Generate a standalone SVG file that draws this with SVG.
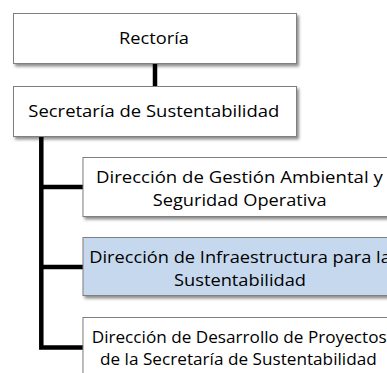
<svg xmlns="http://www.w3.org/2000/svg" width="387" height="373" viewBox="0 0 387 373">
<defs>
<filter id="sh" x="-10%" y="-10%" width="130%" height="140%">
<feDropShadow dx="2" dy="2.5" stdDeviation="1.5" flood-color="#000" flood-opacity="0.45"/>
</filter>
<style>
.box{fill:#fff;stroke:#7f7f7f;stroke-width:1;filter:url(#sh)}
.blue{fill:#c6d8ee}
.t{font-family:"Open Sans","Liberation Sans",sans-serif;font-size:16.8px;fill:#000}
.s{font-size:15.7px}
.ln{fill:none;stroke:#000;stroke-width:4.5;stroke-linejoin:miter}
</style>
</defs>
<rect width="387" height="373" fill="#fff"/>
<g id="connectors">
<path class="ln" d="M155 63 V86.5"/>
<path class="ln" d="M41.3 136.5 V347.5 H83"/>
<path class="ln" d="M41.3 187 H83"/>
<path class="ln" d="M41.3 267 H83"/>
</g>
<g id="rectoria">
<rect class="box" x="13.5" y="13.5" width="283" height="50"/>
<text class="t" x="119" y="44" textLength="70" lengthAdjust="spacingAndGlyphs">Rectoría</text>
</g>
<g id="secretaria">
<rect class="box" x="13.5" y="86.5" width="283" height="50"/>
<text class="t" x="28.3" y="117" textLength="251" lengthAdjust="spacingAndGlyphs">Secretaría de Sustentabilidad</text>
</g>
<g id="gestion">
<rect class="box" x="83" y="157.5" width="314" height="59"/>
<text class="t" x="96" y="182.5" textLength="286.7" lengthAdjust="spacingAndGlyphs">Dirección de Gestión Ambiental y</text>
<text class="t" x="152.7" y="205.5" textLength="174" lengthAdjust="spacingAndGlyphs">Seguridad Operativa</text>
</g>
<g id="infraestructura">
<rect class="box blue" x="83" y="237.5" width="314" height="58"/>
<text class="t" x="89.3" y="262.5" textLength="301.5" lengthAdjust="spacingAndGlyphs">Dirección de Infraestructura para la</text>
<text class="t" x="174" y="285.5" textLength="132" lengthAdjust="spacingAndGlyphs">Sustentabilidad</text>
</g>
<g id="desarrollo">
<rect class="box" x="83" y="317.5" width="314" height="70"/>
<text class="t s" x="91.7" y="342.5" textLength="295" lengthAdjust="spacingAndGlyphs">Dirección de Desarrollo de Proyectos</text>
<text class="t s" x="100" y="365" textLength="276.7" lengthAdjust="spacingAndGlyphs">de la Secretaría de Sustentabilidad</text>
</g>
</svg>
